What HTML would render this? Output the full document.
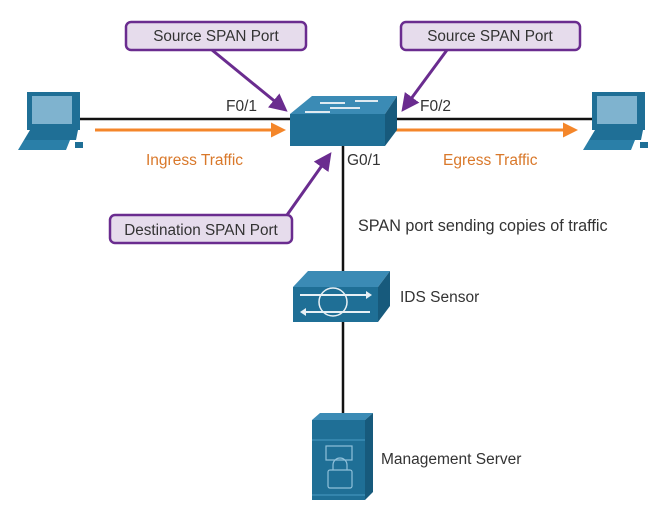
<!DOCTYPE html>
<html><head><style>
body{margin:0;width:663px;height:523px;background:#fff;overflow:hidden;font-family:"Liberation Sans",sans-serif}
</style></head><body>
<svg width="663" height="523" viewBox="0 0 663 523" xmlns="http://www.w3.org/2000/svg" font-family="Liberation Sans, sans-serif">
<defs>
<marker id="pa" markerWidth="6" markerHeight="6" refX="4" refY="3" orient="auto" markerUnits="strokeWidth"><path d="M0,0 L6,3 L0,6 z" fill="#6a2c8f"/></marker>
<marker id="oa" markerWidth="5" markerHeight="5" refX="3" refY="2.5" orient="auto" markerUnits="strokeWidth"><path d="M0,0 L5,2.5 L0,5 z" fill="#f4862a"/></marker>
</defs>
<line x1="78" y1="119" x2="592" y2="119" stroke="#111" stroke-width="2.5"/>
<line x1="343" y1="145" x2="343" y2="420" stroke="#111" stroke-width="2.5"/>
<line x1="95" y1="130" x2="280" y2="130" stroke="#f4862a" stroke-width="3" marker-end="url(#oa)"/>
<line x1="393" y1="130" x2="572" y2="130" stroke="#f4862a" stroke-width="3" marker-end="url(#oa)"/>
<g>
<path d="M27,92 L80,92 L80,130 L27,130 z" fill="#1f6f96"/>
<rect x="32" y="96" width="40" height="28" fill="#7fb3cf"/>
<path d="M30,130 L78,130 L76,140 L24,140 z" fill="#1f6f96"/>
<path d="M24,140 L70,140 L66,150 L18,150 z" fill="#2a7fa8"/>
<rect x="75" y="142" width="8" height="6" fill="#1f6f96"/>
</g>
<g transform="translate(565,0)">
<path d="M27,92 L80,92 L80,130 L27,130 z" fill="#1f6f96"/>
<rect x="32" y="96" width="40" height="28" fill="#7fb3cf"/>
<path d="M30,130 L78,130 L76,140 L24,140 z" fill="#1f6f96"/>
<path d="M24,140 L70,140 L66,150 L18,150 z" fill="#2a7fa8"/>
<rect x="75" y="142" width="8" height="6" fill="#1f6f96"/>
</g>
<path d="M290,114 L312,96 L397,96 L385,114 z" fill="#3b8bb5"/>
<rect x="290" y="114" width="95" height="32" fill="#1f6f96"/>
<path d="M385,114 L397,96 L397,130 L385,146 z" fill="#175a7c"/>
<g stroke="#dfeaf1" stroke-width="2">
<line x1="320" y1="103" x2="345" y2="103"/><line x1="355" y1="101" x2="378" y2="101"/>
<line x1="330" y1="108" x2="360" y2="108"/><line x1="305" y1="112" x2="330" y2="112"/>
</g>
<path d="M293,287 L308,271 L390,271 L378,287 z" fill="#3b8bb5"/>
<rect x="293" y="287" width="85" height="35" fill="#1f6f96"/>
<path d="M378,287 L390,271 L390,306 L378,322 z" fill="#175a7c"/>
<circle cx="333" cy="302" r="14" fill="none" stroke="#e8f0f5" stroke-width="1.5"/>
<line x1="300" y1="295" x2="366" y2="295" stroke="#e8f0f5" stroke-width="2"/>
<path d="M366,291 L372,295 L366,299 z" fill="#e8f0f5"/>
<line x1="306" y1="312" x2="370" y2="312" stroke="#e8f0f5" stroke-width="2"/>
<path d="M306,308 L300,312 L306,316 z" fill="#e8f0f5"/>
<path d="M312,420 L320,413 L373,413 L365,420 z" fill="#3b8bb5"/>
<rect x="312" y="420" width="53" height="80" fill="#1f6f96"/>
<path d="M365,420 L373,413 L373,492 L365,500 z" fill="#175a7c"/>
<line x1="312" y1="440" x2="365" y2="440" stroke="#4a9bc4"/>
<line x1="312" y1="495" x2="365" y2="495" stroke="#4a9bc4"/>
<rect x="326" y="446" width="26" height="14" fill="none" stroke="#8fc0da" stroke-width="1.2"/>
<rect x="328" y="470" width="24" height="18" rx="2" fill="none" stroke="#8fc0da" stroke-width="1.2"/>
<path d="M333,470 v-5 a7,7 0 0 1 14,0 v5" fill="none" stroke="#8fc0da" stroke-width="1.2"/>
<g stroke="#6a2c8f" stroke-width="3" fill="none">
<line x1="212" y1="50" x2="283" y2="108" marker-end="url(#pa)"/>
<line x1="447" y1="50" x2="405" y2="107" marker-end="url(#pa)"/>
<line x1="287" y1="215" x2="328" y2="157" marker-end="url(#pa)"/>
</g>
<g fill="#e6dcec" stroke="#6a2c8f" stroke-width="2.5">
<rect x="126" y="22" width="180" height="28" rx="5"/>
<rect x="401" y="22" width="179" height="28" rx="5"/>
<rect x="110" y="215" width="182" height="28" rx="5"/>
</g>
<g font-size="15.3" fill="#333">
<text x="216" y="41" text-anchor="middle">Source SPAN Port</text>
<text x="490" y="41" text-anchor="middle">Source SPAN Port</text>
<text x="201" y="235" text-anchor="middle">Destination SPAN Port</text>
</g>
<g font-size="15.5" fill="#333">
<text x="226" y="111">F0/1</text>
<text x="420" y="111">F0/2</text>
<text x="347" y="165">G0/1</text>
<text x="358" y="231" font-size="16.2">SPAN port sending copies of traffic</text>
<text x="400" y="302">IDS Sensor</text>
<text x="381" y="464">Management Server</text>
</g>
<g font-size="15.5" fill="#d9782a">
<text x="146" y="165">Ingress Traffic</text>
<text x="443" y="165">Egress Traffic</text>
</g>
</svg>
</body></html>
